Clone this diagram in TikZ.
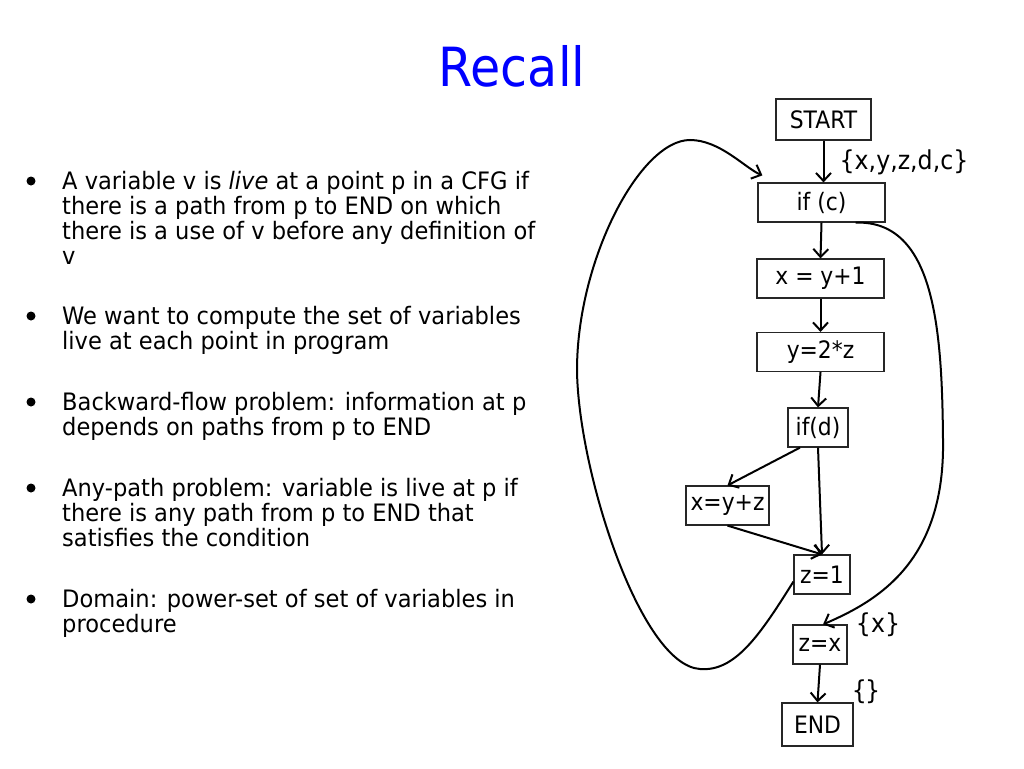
\documentclass[tikz,border=0pt]{standalone}
\usepackage{fontspec}
\setmainfont{DejaVu Sans}[FakeStretch=0.91]
\newfontfamily\parafont{DejaVu Sans}[FakeStretch=0.94]
\usetikzlibrary{arrows.meta,calc}
\tikzset{
  box/.style={draw=black!85, line width=1.2pt, inner sep=0pt, font=\fontsize{24}{26}\selectfont},
  edge/.style={line width=2pt, -{Straight Barb[length=8pt,width=15pt,line width=2pt]}},
  para/.style={anchor=base west, align=left, inner sep=0pt, font=\parafont\fontsize{24}{25}\selectfont},
  bul/.style={circle, fill=black, inner sep=0pt, minimum size=9pt},
  lab/.style={inner sep=0pt, font=\fontsize{26}{28}\selectfont}
}
\begin{document}
\begin{tikzpicture}[x=1pt,y=-1pt]
\useasboundingbox (0,0) rectangle (1024,768);
\node[inner sep=0pt, text=blue, font=\fontsize{54}{60}\selectfont, anchor=base] (title) at (512,86) {Recall};

% bullets (paragraph nodes anchored at the baseline of their last line)
\node[bul] (b1) at (31,181) {};
\node[para] (p1) at (62,264) {A variable v is \textit{live} at a point p in a CFG if\\there is a path from p to END on which\\there is a use of v before any definition of\\v};
\node[bul] (b2) at (31,316) {};
\node[para] (p2) at (62,349) {We want to compute the set of variables\\live at each point in program};
\node[bul] (b3) at (31,402) {};
\node[para] (p3) at (62,435) {Backward-flow problem: information at p\\depends on paths from p to END};
\node[bul] (b4) at (31,488) {};
\node[para] (p4) at (62,546) {Any-path problem: variable is live at p if\\there is any path from p to END that\\satisfies the condition};
\node[bul] (b5) at (31,599) {};
\node[para] (p5) at (62,632) {Domain: power-set of set of variables in\\procedure};

% CFG nodes
\node[box, minimum width=95pt, minimum height=41pt] (start) at (823.5,119.5) {START};
\node[box, minimum width=127pt, minimum height=39pt] (ifc) at (821.5,202.5) {if (c)};
\node[box, minimum width=127pt, minimum height=39pt] (x1) at (820.5,278.5) {x = y+1};
\node[box, minimum width=127pt, minimum height=39pt] (y2) at (820.5,352) {y=2*z};
\node[box, minimum width=60pt, minimum height=39pt] (ifd) at (818,427.5) {if(d)};
\node[box, minimum width=83pt, minimum height=39pt] (xyz) at (727.5,505.5) {x=y+z};
\node[box, minimum width=56pt, minimum height=39pt] (z1) at (822,574.5) {z=1};
\node[box, minimum width=54pt, minimum height=39pt] (zx) at (820,644.5) {z=x};
\node[box, minimum width=71pt, minimum height=43pt] (end) at (817.5,724.5) {END};

\node[lab] (l1) at (904,162) {\{x,y,z,d,c\}};
\node[lab] (l2) at (878,625) {\{x\}};
\node[lab] (l3) at (866,692) {\{\kern-2pt\}};

% edges
\draw[edge] (start.south) -- (start.south |- ifc.north);
\draw[edge] (ifc.south) -- (x1.north);
\draw[edge] (x1.south) -- (y2.north);
\draw[edge] (y2.south) -- (ifd.north);
\draw[edge] ([xshift=-18pt]ifd.south) -- (xyz.north);
\draw[edge] (ifd.south) -- (z1.north);
\draw[edge] (xyz.south) -- (z1.north);
\draw[edge] (zx.south) -- (end.north);

% loop back edge
\coordinate (la) at ([yshift=13pt]z1.south west);
\coordinate (lb) at ([xshift=5pt,yshift=7pt]ifc.north west);
\draw[edge] (la) .. controls (760,635) and (735,672) .. (700,669)
  .. controls (640,665) and (578,470) .. (577,370)
  .. controls (577,260) and (640,140) .. (690,140)
  .. controls (720,140) and (745,168) .. (lb);

% right edge
\coordinate (ra) at ([xshift=-30pt]ifc.south east);
\coordinate (rb) at ([xshift=3pt]zx.north);
\draw[edge] (ra) .. controls (935,220) and (942,330) .. (943,440)
  .. controls (945,560) and (880,600) .. (rb);
\end{tikzpicture}
\end{document}
